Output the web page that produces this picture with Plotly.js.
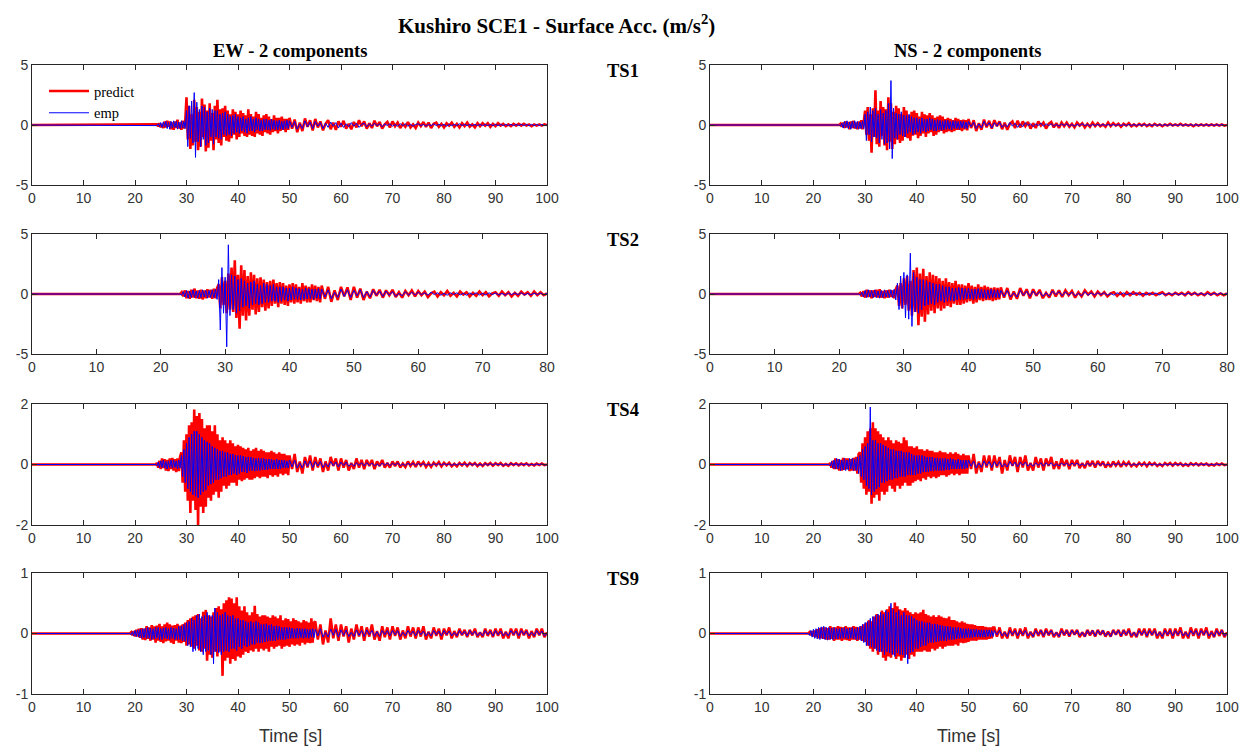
<!DOCTYPE html>
<html>
<head>
<meta charset="utf-8">
<script src="https://cdn.plot.ly/plotly-3.0.1.min.js"></script>
<style>html,body{margin:0;padding:0;background:#fff;}#chart{width:1253px;height:749px;}</style>
</head>
<body>
<div id="chart"></div>
<script>
// ---------------- DATA ----------------
// Each record: flat at 0 before onset t0; part "a" sampled every DT_A s from t0,
// part "b" (coda) sampled every DT_B s from ts.
const DT_A = 0.25, DT_B = 0.5;
const seriesNames = ['predict', 'emp'];
const rowLabels = ['TS1', 'TS2', 'TS4', 'TS9'];
const colLabels = ['EW - 2 components', 'NS - 2 components'];
const xMax = [100, 80, 100, 100];
const yMax = [5, 5, 2, 1];
const yTickText = [['-5', '0', '5'], ['-5', '0', '5'], ['-2', '0', '2'], ['-1', '0', '1']];

// ===== TS1 EW =====
const ew1_t0 = 24, ew1_ts = 50;
const ew1_pred_a = [0,0.05,-0.1,0.15,-0.2,0.1,-0.25,0.3,-0.2,0.35,-0.15,0.3,-0.35,0.2,-0.4,0.3,-0.25,0.45,-0.3,0.2,-0.4,0.35,-0.3,0.25,
2.3,-1.2,1.6,-2.0,0.9,-1.7,2.1,-1.4,
1.5,-2.1,1.1,-1.8,2.2,-1.0,1.7,-2.2,
1.2,-1.9,1.8,-1.3,1.0,-2.1,1.6,-1.2,
2.1,-1.5,1.3,-1.7,1.4,-1.0,1.6,-1.3,
1.2,-1.4,0.9,-1.1,1.3,-0.8,1.1,-1.2,
0.9,-1.0,1.2,-0.7,1.0,-0.9,0.8,-1.0,
1.3,-0.8,0.9,-0.9,0.7,-1.0,1.1,-0.7,
0.9,-0.8,0.6,-0.9,0.8,-0.6,0.9,-0.7,
0.7,-0.8,0.5,-0.6,0.8,-0.5,0.6,-0.7,
0.6,-0.5,0.7,-0.4,0.5,-0.6,0.5,-0.4];
const ew1_pred_b = [0.6,-0.3,0.45,-0.6,0.2,-0.5,0.55,-0.15,0.4,-0.45,
0.5,-0.2,0.3,-0.45,0.1,0.4,-0.35,0.2,-0.4,0.3,
-0.15,0.35,-0.3,0.1,-0.35,0.25,-0.2,0.4,-0.1,0.3,
-0.3,0.15,-0.25,0.35,-0.1,0.25,-0.3,0.05,0.25,-0.2,
0.3,-0.1,0.2,-0.25,0.1,-0.15,0.25,-0.2,0.05,-0.25,
0.2,-0.1,0.25,-0.15,0.2,-0.25,0.1,0.2,-0.15,0.1,
-0.2,0.15,-0.05,0.2,-0.15,0.1,-0.2,0.15,-0.1,0.2,
-0.15,0.05,-0.2,0.15,-0.1,0.15,-0.05,0.15,-0.15,0.1,
-0.1,0.15,-0.05,0.1,-0.1,0.05,-0.1,0.1,-0.05,0.1,
-0.05,0.1,-0.05,0.05,-0.1,0.05,-0.05,0.05,-0.05,0.05,0];
const ew1_emp_a = [0,-0.05,0.1,-0.15,0.2,-0.2,0.25,-0.15,0.3,-0.3,0.2,-0.35,0.3,-0.25,0.35,-0.2,0.3,-0.35,0.25,-0.3,0.35,-0.25,0.3,-0.3,
1.2,-1.8,1.6,-1.1,2.0,-1.5,2.7,-2.7,
1.9,-1.4,1.3,-1.8,1.6,-1.2,1.5,-1.7,
1.1,-1.5,1.4,-1.0,1.3,-1.6,1.2,-1.0,
1.2,-1.1,0.9,-1.2,1.0,-0.8,1.1,-0.9,
0.9,-0.8,0.7,-0.9,0.8,-0.7,0.9,-0.6,
0.7,-0.7,0.6,-0.5,0.7,-0.6,0.5,-0.7,
0.6,-0.5,0.7,-0.5,0.5,-0.6,0.6,-0.4,
0.5,-0.5,0.4,-0.5,0.5,-0.4,0.5,-0.4,
0.4,-0.45,0.5,-0.35,0.4,-0.4,0.35,-0.4,
0.4,-0.35,0.3,-0.4,0.35,-0.3,0.4,-0.3];
const ew1_emp_b = [0.35,-0.2,0.3,-0.35,0.1,-0.3,0.35,-0.15,0.25,-0.3,
0.3,-0.1,0.2,-0.3,0.15,-0.2,0.25,-0.1,0.2,-0.25,
0.15,-0.2,0.1,-0.15,0.2,-0.1,0.15,-0.2,0.05,0.15,
-0.15,0.1,-0.1,0.15,-0.05,0.1,-0.15,0.1,-0.05,0.1,
-0.1,0.05,-0.1,0.1,-0.05,0.1,-0.1,0.05,-0.1,0.05,
0.1,-0.05,0.05,-0.1,0.05,-0.05,0.1,-0.05,0.05,-0.05,
0.05,-0.1,0.05,-0.05,0.05,-0.05,0.1,-0.05,0.05,-0.05,
0.05,-0.05,0.05,-0.05,0.05,-0.05,0.05,-0.05,0.05,-0.05,
0.05,-0.05,0.05,-0.05,0.05,-0.05,0.05,-0.05,0.05,-0.05,
0.05,-0.05,0.05,-0.05,0.05,-0.05,0.05,-0.05,0.05,-0.05,0];

// ===== TS1 NS =====
const ns1_t0 = 25, ns1_ts = 50;
const ns1_pred_a = [0,0.1,-0.15,0.2,-0.25,0.3,-0.2,0.25,-0.35,0.3,-0.25,0.35,-0.3,0.2,-0.35,0.3,-0.3,0.4,-0.35,0.3,
1.2,-0.8,1.5,-1.3,0.9,-2.3,1.4,-1.0,
2.9,-1.6,1.2,-1.8,2.0,-0.9,1.5,-1.7,
1.3,-2.1,2.3,-1.4,1.8,-2.0,1.1,-1.6,
1.6,-1.2,1.4,-1.5,0.9,-1.3,1.5,-1.0,
1.2,-1.1,0.8,-1.3,1.1,-0.9,1.2,-0.8,
1.0,-1.1,0.7,-0.9,1.1,-0.7,0.9,-1.0,
0.8,-0.7,1.0,-0.6,0.8,-0.9,0.6,-0.8,
0.7,-0.6,0.8,-0.5,0.7,-0.7,0.5,-0.6,
0.6,-0.5,0.5,-0.6,0.4,-0.5,0.6,-0.4,
0.5,-0.4,0.4,-0.5,0.45,-0.35,0.4,-0.45];
const ns1_pred_b = [0.5,-0.25,0.4,-0.5,0.15,-0.4,0.45,-0.2,0.35,-0.3,
0.4,-0.1,0.3,-0.35,0.2,-0.4,0.1,0.3,-0.25,0.35,
-0.2,0.3,-0.1,0.25,-0.3,0.15,-0.25,0.3,-0.05,0.2,
-0.3,0.1,0.25,-0.2,0.15,-0.25,0.2,-0.1,0.2,-0.15,
0.1,-0.2,0.2,-0.05,0.15,-0.2,0.1,-0.15,0.2,-0.1,
0.15,-0.1,0.05,-0.15,0.2,-0.1,0.15,-0.05,0.1,-0.15,
0.1,-0.05,0.15,-0.1,0.05,-0.1,0.1,-0.05,0.1,-0.1,
0.05,-0.1,0.1,-0.05,0.05,-0.1,0.05,-0.05,0.1,-0.05,
0.05,-0.05,0.1,-0.05,0.05,-0.05,0.05,-0.1,0.05,-0.05,
0.05,-0.05,0.05,-0.05,0.05,-0.05,0.05,-0.05,0.05,-0.05,0];
const ns1_emp_a = [0,-0.1,0.15,-0.25,0.3,-0.2,0.35,-0.3,0.25,-0.35,0.3,-0.25,0.35,-0.3,0.3,-0.35,0.25,-0.3,0.35,-0.3,
0.9,-1.3,1.1,-0.8,1.5,-1.4,1.2,-1.0,
1.4,-1.1,0.9,-1.5,1.3,-1.2,1.0,-1.6,
1.2,-1.5,1.8,-2.0,3.7,-2.8,1.4,-1.1,
1.0,-1.2,0.9,-0.8,1.1,-0.9,0.8,-1.0,
0.8,-0.7,0.9,-0.6,0.7,-0.8,0.6,-0.7,
0.6,-0.6,0.5,-0.7,0.6,-0.5,0.5,-0.6,
0.5,-0.5,0.6,-0.4,0.5,-0.5,0.4,-0.5,
0.45,-0.4,0.4,-0.45,0.35,-0.4,0.4,-0.35,
0.4,-0.35,0.3,-0.4,0.35,-0.3,0.35,-0.3,
0.3,-0.35,0.3,-0.25,0.3,-0.3,0.25,-0.3];
const ns1_emp_b = [0.3,-0.15,0.25,-0.3,0.1,-0.25,0.3,-0.1,0.2,-0.25,
0.2,-0.1,0.25,-0.2,0.05,-0.15,0.2,-0.1,0.15,-0.2,
0.1,-0.15,0.2,-0.05,0.1,-0.15,0.1,-0.05,0.15,-0.1,
0.1,-0.05,0.1,-0.1,0.05,-0.1,0.1,-0.05,0.1,-0.1,
0.05,-0.1,0.05,-0.05,0.1,-0.05,0.05,-0.1,0.05,-0.05,
0.05,-0.05,0.05,-0.05,0.05,-0.05,0.05,-0.05,0.05,-0.05,
0.05,-0.05,0.05,-0.05,0.05,-0.05,0.05,-0.05,0.05,-0.05,
0.05,-0.05,0.05,-0.05,0.05,-0.05,0.05,-0.05,0.05,-0.05,
0.05,-0.05,0.05,-0.05,0.05,-0.05,0.05,-0.05,0.05,-0.05,
0.05,-0.05,0.05,-0.05,0.05,-0.05,0.05,-0.05,0.05,-0.05,0];

// ===== TS2 EW (80 s record) =====
const ew2_t0 = 23, ew2_ts = 45;
const ew2_pred_a = [0,0.15,-0.2,0.3,-0.35,0.25,-0.4,0.35,-0.3,0.45,-0.35,0.3,-0.4,0.35,-0.45,0.3,-0.35,0.4,-0.3,0.35,-0.4,0.45,-0.35,0.5,
0.8,-1.2,1.4,-0.9,1.1,-1.6,1.7,-1.3,
2.2,-1.5,2.8,-2.0,1.6,-2.9,2.4,-1.8,
2.0,-2.2,1.5,-1.8,1.8,-1.3,1.6,-1.7,
1.3,-1.5,1.4,-1.1,1.2,-1.4,1.0,-1.2,
1.1,-1.0,1.2,-0.8,0.9,-1.1,1.0,-0.8,
0.9,-0.9,0.7,-1.0,0.8,-0.7,0.9,-0.8,
0.8,-0.7,0.6,-0.8,0.9,-0.6,0.7,-0.7,
0.6,-0.7,0.8,-0.5,0.7,-0.6,0.6,-0.7];
const ew2_pred_b = [0.7,-0.4,0.6,-0.65,0.3,-0.5,0.6,-0.2,0.55,-0.5,
0.6,-0.3,0.45,-0.5,0.2,-0.35,0.4,-0.15,0.35,-0.3,
0.3,-0.1,0.35,-0.25,0.15,-0.3,0.25,-0.1,0.3,-0.2,
0.25,-0.1,0.2,-0.25,0.05,0.2,-0.2,0.15,-0.1,0.25,
-0.15,0.1,-0.2,0.2,-0.05,0.15,-0.2,0.1,-0.15,0.2,
-0.1,0.15,-0.2,0.05,0.15,-0.15,0.2,-0.1,0.15,-0.2,
0.1,-0.15,0.2,-0.05,0.15,-0.15,0.2,-0.1,0.15,-0.1,0.05];
const ew2_emp_a = [0,-0.1,0.2,-0.25,0.3,-0.35,0.25,-0.3,0.35,-0.3,0.25,-0.35,0.3,-0.3,0.35,-0.25,0.3,-0.35,0.3,-0.3,0.35,-0.3,0.4,-0.45,
1.2,-3.0,2.2,-1.6,1.4,-4.4,4.1,-1.8,
1.6,-1.3,1.5,-1.6,1.2,-1.4,1.3,-1.1,
1.1,-1.0,0.9,-1.2,1.0,-0.9,1.1,-0.8,
0.8,-0.9,0.7,-0.8,0.9,-0.7,0.8,-0.7,
0.7,-0.6,0.8,-0.6,0.6,-0.7,0.6,-0.6,
0.6,-0.5,0.5,-0.6,0.5,-0.5,0.6,-0.45,
0.5,-0.45,0.45,-0.5,0.4,-0.45,0.5,-0.4,
0.45,-0.4,0.4,-0.45,0.4,-0.35,0.45,-0.4];
const ew2_emp_b = [0.4,-0.25,0.35,-0.4,0.15,-0.3,0.4,-0.2,0.35,-0.3,
0.3,-0.15,0.35,-0.3,0.2,-0.25,0.3,-0.1,0.25,-0.2,
0.25,-0.1,0.2,-0.2,0.05,-0.15,0.2,-0.1,0.15,-0.1,
0.15,-0.05,0.1,-0.1,0.15,-0.05,0.1,-0.1,0.05,-0.1,
0.1,-0.05,0.1,-0.08,0.05,-0.1,0.08,-0.05,0.1,-0.08,
0.05,-0.08,0.1,-0.05,0.08,-0.08,0.05,-0.1,0.08,-0.05,
0.08,-0.05,0.1,-0.08,0.05,-0.08,0.08,-0.05,0.08,-0.08,0.05];

// ===== TS2 NS (80 s record) =====
const ns2_t0 = 23, ns2_ts = 45;
const ns2_pred_a = [0,0.1,-0.2,0.25,-0.3,0.35,-0.25,0.3,-0.35,0.3,-0.25,0.35,-0.3,0.4,-0.3,0.25,-0.35,0.3,-0.3,0.35,-0.25,0.3,-0.35,0.4,
0.7,-1.0,0.9,-1.2,1.3,-0.9,1.5,-1.4,
1.1,-1.8,2.0,-1.5,2.2,-2.6,1.7,-1.9,
2.1,-2.3,1.5,-1.7,1.8,-1.4,1.6,-1.6,
1.5,-1.2,1.3,-1.4,1.1,-1.2,1.3,-1.0,
1.0,-1.1,0.9,-0.8,1.1,-0.9,0.8,-0.9,
0.8,-0.8,0.7,-0.7,0.9,-0.6,0.7,-0.8,
0.6,-0.7,0.8,-0.5,0.6,-0.6,0.7,-0.5,
0.6,-0.5,0.5,-0.6,0.55,-0.5,0.5,-0.45];
const ns2_pred_b = [0.55,-0.3,0.5,-0.45,0.2,-0.4,0.5,-0.15,0.4,-0.35,
0.4,-0.15,0.35,-0.35,0.1,-0.3,0.35,-0.2,0.3,-0.25,
0.3,-0.1,0.25,-0.3,0.15,-0.2,0.3,-0.05,0.2,-0.2,
0.2,-0.1,0.15,-0.2,0.05,0.15,-0.15,0.1,-0.15,0.15,
-0.1,0.15,-0.05,0.1,-0.15,0.1,-0.05,0.1,-0.1,0.05,
0.15,-0.1,0.05,-0.1,0.1,-0.05,0.1,-0.1,0.15,-0.05,
0.1,-0.1,0.05,-0.1,0.15,-0.05,0.1,-0.1,0.05,-0.1,0.05];
const ns2_emp_a = [0,-0.1,0.15,-0.25,0.3,-0.3,0.35,-0.25,0.3,-0.3,0.35,-0.3,0.25,-0.35,0.3,-0.3,0.35,-0.25,0.3,-0.3,0.35,-0.3,0.4,-0.5,
0.9,-1.3,1.5,-1.2,1.8,-2.0,1.6,-2.1,
3.4,-2.7,1.8,-1.5,1.4,-1.6,1.2,-1.3,
1.2,-1.0,1.1,-0.9,1.0,-0.8,0.9,-0.9,
0.8,-0.7,0.8,-0.6,0.7,-0.7,0.6,-0.6,
0.6,-0.55,0.5,-0.6,0.5,-0.5,0.55,-0.45,
0.5,-0.45,0.45,-0.4,0.5,-0.4,0.4,-0.45,
0.4,-0.4,0.45,-0.35,0.4,-0.35,0.35,-0.4,
0.35,-0.35,0.4,-0.3,0.35,-0.3,0.35,-0.3];
const ns2_emp_b = [0.3,-0.2,0.3,-0.25,0.1,-0.25,0.3,-0.1,0.25,-0.2,
0.25,-0.1,0.2,-0.2,0.1,-0.2,0.25,-0.05,0.2,-0.15,
0.2,-0.1,0.15,-0.15,0.05,-0.15,0.2,-0.1,0.1,-0.1,
0.1,-0.05,0.1,-0.1,0.05,-0.1,0.1,-0.05,0.1,-0.08,
0.08,-0.05,0.1,-0.08,0.05,-0.08,0.08,-0.05,0.08,-0.08,
0.05,-0.08,0.08,-0.05,0.08,-0.08,0.05,-0.08,0.08,-0.05,
0.08,-0.05,0.08,-0.08,0.05,-0.08,0.08,-0.05,0.08,-0.08,0.05];

// ===== TS4 EW =====
const ew4_t0 = 24, ew4_ts = 50;
const ew4_pred_a = [0,0.05,-0.1,0.12,-0.15,0.2,-0.12,0.18,-0.2,0.15,-0.22,0.2,-0.15,0.22,-0.2,0.18,-0.25,0.2,-0.22,0.25,
0.4,-0.6,0.8,-0.9,1.0,-1.2,1.3,-1.6,
1.4,-1.2,1.82,-1.5,1.6,-2.0,1.7,-1.4,
1.5,-1.6,1.2,-1.4,1.3,-1.1,1.3,-1.2,
1.1,-1.0,1.3,-0.9,1.0,-1.1,0.8,-0.9,
0.9,-0.7,0.8,-0.8,0.7,-0.7,0.8,-0.6,
0.7,-0.6,0.6,-0.7,0.65,-0.5,0.6,-0.55,
0.55,-0.5,0.5,-0.45,0.55,-0.5,0.45,-0.5,
0.5,-0.45,0.55,-0.4,0.45,-0.45,0.5,-0.4,
0.45,-0.4,0.4,-0.45,0.4,-0.35,0.45,-0.4,
0.4,-0.35,0.35,-0.4,0.4,-0.3,0.35,-0.35,
0.35,-0.3,0.3,-0.35];
const ew4_pred_b = [0.3,-0.15,0.35,-0.25,0.1,-0.3,0.25,-0.1,0.3,-0.2,
0.25,-0.1,0.2,-0.25,0.1,-0.2,0.25,-0.05,0.2,-0.2,
0.2,-0.1,0.15,-0.2,0.05,-0.15,0.2,-0.1,0.15,-0.15,
0.15,-0.05,0.15,-0.15,0.1,-0.05,0.15,-0.1,0.05,-0.1,
0.1,-0.05,0.1,-0.1,0.03,-0.08,0.1,-0.05,0.08,-0.08,
0.1,-0.03,0.08,-0.08,0.05,-0.08,0.06,-0.03,0.08,-0.06,
0.06,-0.03,0.06,-0.06,0.02,-0.06,0.05,-0.03,0.06,-0.05,
0.05,-0.02,0.05,-0.05,0.03,-0.05,0.04,-0.02,0.05,-0.04,
0.04,-0.02,0.05,-0.04,0.02,-0.04,0.04,-0.02,0.04,-0.03,
0.03,-0.02,0.04,-0.03,0.02,-0.03,0.03,-0.02,0.03,-0.02,0];
const ew4_emp_a = [0,-0.05,0.08,-0.1,0.12,-0.1,0.15,-0.12,0.1,-0.15,0.12,-0.1,0.15,-0.12,0.15,-0.1,0.12,-0.15,0.15,-0.12,
0.3,-0.4,0.5,-0.6,0.7,-0.8,0.9,-0.9,
1.0,-1.0,1.1,-1.05,1.1,-1.1,1.0,-1.0,
0.9,-0.9,0.8,-0.85,0.75,-0.7,0.7,-0.65,
0.6,-0.6,0.55,-0.5,0.5,-0.5,0.45,-0.45,
0.45,-0.4,0.4,-0.4,0.4,-0.35,0.35,-0.35,
0.35,-0.3,0.3,-0.35,0.3,-0.3,0.3,-0.25,
0.28,-0.25,0.25,-0.28,0.25,-0.22,0.25,-0.2,
0.22,-0.22,0.2,-0.2,0.22,-0.2,0.2,-0.18,
0.2,-0.18,0.18,-0.18,0.18,-0.15,0.18,-0.15,
0.15,-0.15,0.18,-0.15,0.15,-0.15,0.15,-0.12,
0.15,-0.12,0.12,-0.12];
const ew4_emp_b = [0.15,-0.08,0.15,-0.12,0.05,-0.12,0.12,-0.06,0.12,-0.1,
0.1,-0.05,0.1,-0.1,0.04,-0.08,0.1,-0.04,0.08,-0.08,
0.08,-0.04,0.08,-0.06,0.03,-0.06,0.06,-0.03,0.06,-0.05,
0.06,-0.03,0.05,-0.05,0.02,-0.05,0.05,-0.03,0.05,-0.04,
0.04,-0.02,0.05,-0.04,0.02,-0.04,0.04,-0.02,0.04,-0.03,
0.03,-0.02,0.03,-0.03,0.01,-0.03,0.03,-0.02,0.03,-0.02,
0.03,-0.01,0.02,-0.03,0.02,-0.02,0.03,-0.01,0.02,-0.02,
0.03,-0.02,0.03,-0.03,0.01,-0.03,0.03,-0.02,0.03,-0.02,
0.03,-0.01,0.02,-0.03,0.02,-0.02,0.03,-0.01,0.02,-0.02,
0.02,-0.01,0.02,-0.02,0.01,-0.02,0.02,-0.01,0.02,-0.02,0];

// ===== TS4 NS =====
const ns4_t0 = 23, ns4_ts = 50;
const ns4_pred_a = [0,0.05,-0.1,0.12,-0.15,0.2,-0.15,0.18,-0.2,0.15,-0.2,0.22,-0.18,0.2,-0.15,0.2,-0.22,0.18,-0.2,0.22,-0.2,0.25,-0.3,0.35,
0.4,-0.6,0.7,-0.8,0.9,-1.0,1.1,-0.9,
1.2,-1.3,1.4,-1.1,1.2,-1.0,1.1,-1.2,
1.0,-0.9,0.9,-1.0,0.8,-0.9,0.9,-0.7,
0.8,-0.8,0.7,-0.9,0.8,-0.7,0.75,-0.8,
0.7,-0.7,0.9,-0.6,0.8,-0.7,0.6,-0.7,
0.6,-0.6,0.55,-0.55,0.6,-0.5,0.5,-0.55,
0.5,-0.45,0.45,-0.5,0.5,-0.4,0.45,-0.45,
0.45,-0.4,0.4,-0.45,0.4,-0.4,0.45,-0.35,
0.4,-0.35,0.4,-0.4,0.35,-0.35,0.4,-0.3,
0.35,-0.35,0.4,-0.3,0.35,-0.35,0.3,-0.3,
0.35,-0.3,0.3,-0.3];
const ns4_pred_b = [0.3,-0.15,0.35,-0.3,0.1,-0.25,0.3,-0.1,0.3,-0.2,
0.3,-0.1,0.25,-0.3,0.15,-0.2,0.3,-0.05,0.25,-0.25,
0.25,-0.1,0.3,-0.2,0.05,-0.2,0.25,-0.1,0.2,-0.2,
0.2,-0.05,0.25,-0.15,0.1,-0.15,0.2,-0.05,0.15,-0.15,
0.15,-0.05,0.15,-0.12,0.05,-0.12,0.12,-0.06,0.12,-0.1,
0.12,-0.04,0.1,-0.1,0.05,-0.08,0.1,-0.04,0.08,-0.08,
0.08,-0.03,0.08,-0.06,0.02,-0.06,0.06,-0.03,0.06,-0.06,
0.06,-0.02,0.05,-0.05,0.02,-0.05,0.05,-0.02,0.05,-0.04,
0.05,-0.02,0.04,-0.04,0.02,-0.04,0.04,-0.02,0.04,-0.03,
0.03,-0.02,0.03,-0.03,0.01,-0.03,0.03,-0.02,0.03,-0.02,0];
const ns4_emp_a = [0,-0.05,0.1,-0.12,0.15,-0.15,0.2,-0.15,0.18,-0.2,0.15,-0.18,0.2,-0.2,0.15,-0.18,0.2,-0.15,0.2,-0.2,0.18,-0.2,0.25,-0.3,
0.3,-0.4,0.5,-0.5,0.6,-0.7,0.7,-0.8,
1.9,-1.0,0.8,-0.9,0.8,-0.8,0.7,-0.75,
0.7,-0.6,0.65,-0.6,0.6,-0.55,0.55,-0.5,
0.5,-0.5,0.5,-0.45,0.45,-0.45,0.45,-0.4,
0.45,-0.4,0.4,-0.4,0.4,-0.35,0.4,-0.35,
0.35,-0.35,0.3,-0.35,0.3,-0.3,0.3,-0.3,
0.3,-0.25,0.28,-0.25,0.25,-0.25,0.25,-0.22,
0.25,-0.22,0.22,-0.2,0.22,-0.2,0.2,-0.2,
0.2,-0.2,0.2,-0.18,0.18,-0.18,0.2,-0.15,
0.18,-0.15,0.15,-0.15,0.18,-0.15,0.15,-0.15,
0.15,-0.15,0.15,-0.12];
const ns4_emp_b = [0.15,-0.06,0.12,-0.12,0.05,-0.1,0.12,-0.05,0.1,-0.1,
0.1,-0.05,0.1,-0.08,0.03,-0.08,0.1,-0.04,0.08,-0.08,
0.08,-0.03,0.08,-0.06,0.03,-0.06,0.06,-0.03,0.06,-0.06,
0.06,-0.03,0.06,-0.05,0.02,-0.05,0.05,-0.02,0.05,-0.05,
0.05,-0.02,0.05,-0.04,0.02,-0.04,0.04,-0.02,0.05,-0.04,
0.04,-0.02,0.04,-0.03,0.01,-0.03,0.03,-0.02,0.04,-0.03,
0.03,-0.01,0.03,-0.03,0.02,-0.02,0.03,-0.01,0.02,-0.02,
0.02,-0.01,0.02,-0.02,0.01,-0.02,0.02,-0.01,0.02,-0.02,
0.02,-0.01,0.02,-0.02,0.01,-0.02,0.02,-0.01,0.02,-0.02,
0.02,-0.01,0.02,-0.02,0.01,-0.02,0.02,-0.01,0.02,-0.02,0];

// ===== TS9 EW =====
const ew9_t0 = 19, ew9_ts = 55;
const ew9_pred_a = [0,0.02,-0.03,0.04,-0.05,0.06,-0.05,0.08,
-0.07,0.09,-0.1,0.08,-0.11,0.12,-0.09,0.1,
-0.12,0.14,-0.1,0.12,-0.15,0.13,-0.12,0.16,
-0.14,0.12,-0.16,0.15,-0.13,0.18,-0.12,0.15,
-0.15,0.13,-0.17,0.14,-0.12,0.16,-0.15,0.13,
-0.16,0.15,-0.14,0.18,-0.2,0.22,-0.18,0.25,
-0.22,0.28,-0.25,0.3,-0.2,0.32,-0.28,0.25,
-0.3,0.36,-0.25,0.39,-0.45,0.3,-0.35,0.28,
-0.4,0.35,-0.3,0.42,-0.38,0.45,-0.3,0.4,
-0.7,0.5,-0.45,0.55,-0.4,0.6,-0.5,0.58,
-0.42,0.5,-0.45,0.6,-0.38,0.45,-0.4,0.38,
-0.35,0.45,-0.3,0.35,-0.32,0.3,-0.28,0.35,
-0.3,0.46,-0.25,0.32,-0.3,0.28,-0.25,0.3,
-0.28,0.3,-0.25,0.28,-0.3,0.26,-0.22,0.3,
-0.25,0.28,-0.22,0.25,-0.2,0.3,-0.25,0.22,
-0.22,0.25,-0.2,0.24,-0.22,0.2,-0.18,0.25,
-0.2,0.22,-0.18,0.2,-0.2,0.18,-0.15,0.22,
-0.18,0.2,-0.15,0.18,-0.16,0.25,-0.15,0.18];
const ew9_pred_b = [0.2,-0.1,0.15,-0.18,0.05,-0.15,0.25,-0.08,0.15,-0.12,
0.15,-0.05,0.12,-0.15,0.08,-0.1,0.15,-0.05,0.12,-0.12,
0.1,-0.05,0.15,-0.1,0.04,-0.12,0.12,-0.06,0.1,-0.1,
0.12,-0.04,0.1,-0.1,0.05,-0.08,0.12,-0.05,0.1,-0.08,
0.1,-0.05,0.12,-0.1,0.03,-0.08,0.1,-0.04,0.08,-0.1,
0.08,-0.03,0.1,-0.08,0.04,-0.06,0.08,-0.03,0.06,-0.06,
0.06,-0.03,0.08,-0.06,0.02,-0.06,0.08,-0.04,0.06,-0.06,
0.08,-0.04,0.08,-0.08,0.03,-0.08,0.08,-0.03,0.08,-0.08,
0.08,-0.03,0.06,-0.08,0.04,-0.06,0.08,-0.03,0.08,-0.06,0.02];
const ew9_emp_a = [0,-0.02,0.03,-0.04,0.05,-0.05,0.06,-0.06,
0.07,-0.08,0.08,-0.07,0.09,-0.08,0.1,-0.08,
0.09,-0.1,0.08,-0.09,0.1,-0.08,0.1,-0.1,
0.08,-0.1,0.09,-0.08,0.1,-0.09,0.08,-0.1,
0.1,-0.08,0.09,-0.1,0.08,-0.1,0.12,-0.1,
0.12,-0.12,0.15,-0.13,0.18,-0.2,0.2,-0.22,
0.25,-0.3,0.22,-0.28,0.3,-0.25,0.32,-0.3,
0.28,-0.35,0.3,-0.3,0.35,-0.28,0.3,-0.35,
0.3,-0.5,0.42,-0.3,0.35,-0.32,0.3,-0.35,
0.32,-0.3,0.35,-0.28,0.3,-0.3,0.28,-0.25,
0.3,-0.25,0.25,-0.28,0.25,-0.22,0.22,-0.25,
0.22,-0.2,0.2,-0.22,0.18,-0.2,0.2,-0.18,
0.18,-0.18,0.2,-0.15,0.18,-0.16,0.15,-0.15,
0.15,-0.14,0.16,-0.13,0.14,-0.12,0.15,-0.12,
0.12,-0.12,0.13,-0.1,0.12,-0.1,0.1,-0.1,
0.1,-0.1,0.1,-0.09,0.1,-0.08,0.09,-0.08,
0.08,-0.08,0.09,-0.08,0.08,-0.07,0.08,-0.08,
0.08,-0.07,0.07,-0.08,0.07,-0.06,0.08,-0.07];
const ew9_emp_b = [0.07,-0.04,0.08,-0.06,0.02,-0.06,0.07,-0.03,0.07,-0.06,
0.06,-0.03,0.06,-0.05,0.02,-0.05,0.06,-0.03,0.05,-0.05,
0.06,-0.02,0.05,-0.05,0.03,-0.05,0.05,-0.02,0.05,-0.04,
0.05,-0.02,0.05,-0.05,0.02,-0.04,0.05,-0.02,0.04,-0.04,
0.05,-0.02,0.04,-0.04,0.02,-0.04,0.05,-0.02,0.04,-0.04,
0.05,-0.02,0.04,-0.04,0.02,-0.04,0.05,-0.02,0.04,-0.04,
0.05,-0.02,0.04,-0.04,0.02,-0.04,0.05,-0.02,0.04,-0.04,
0.05,-0.02,0.04,-0.04,0.02,-0.04,0.05,-0.02,0.04,-0.04,
0.05,-0.02,0.04,-0.04,0.02,-0.04,0.05,-0.02,0.04,-0.04,0];

// ===== TS9 NS =====
const ns9_t0 = 19, ns9_ts = 55;
const ns9_pred_a = [0,0.02,-0.03,0.04,-0.05,0.05,-0.06,0.07,
-0.08,0.09,-0.08,0.1,-0.09,0.1,-0.1,0.09,
-0.1,0.12,-0.09,0.1,-0.12,0.1,-0.1,0.12,
-0.1,0.11,-0.12,0.1,-0.1,0.12,-0.11,0.1,
-0.12,0.1,-0.1,0.12,-0.1,0.11,-0.12,0.1,
-0.1,0.12,-0.12,0.15,-0.14,0.18,-0.2,0.22,
-0.25,0.2,-0.3,0.28,-0.25,0.32,-0.35,0.3,
-0.3,0.38,-0.4,0.35,-0.45,0.4,-0.38,0.45,
-0.4,0.42,-0.35,0.51,-0.42,0.45,-0.38,0.4,
-0.45,0.38,-0.4,0.42,-0.35,0.38,-0.42,0.35,
-0.35,0.32,-0.38,0.35,-0.3,0.33,-0.3,0.35,
-0.3,0.39,-0.28,0.32,-0.3,0.3,-0.3,0.28,
-0.25,0.3,-0.28,0.27,-0.25,0.3,-0.22,0.28,
-0.25,0.26,-0.22,0.25,-0.2,0.28,-0.2,0.22,
-0.2,0.22,-0.18,0.2,-0.2,0.18,-0.15,0.2,
-0.16,0.18,-0.15,0.16,-0.14,0.15,-0.12,0.15,
-0.12,0.14,-0.12,0.12,-0.1,0.12,-0.1,0.12,
-0.1,0.11,-0.1,0.1,-0.09,0.1,-0.08,0.1];
const ns9_pred_b = [0.1,-0.05,0.1,-0.08,0.03,-0.08,0.1,-0.04,0.08,-0.08,
0.08,-0.04,0.1,-0.08,0.03,-0.06,0.08,-0.04,0.06,-0.06,
0.08,-0.03,0.06,-0.06,0.02,-0.06,0.08,-0.03,0.06,-0.05,
0.06,-0.02,0.06,-0.06,0.02,-0.05,0.06,-0.03,0.05,-0.05,
0.06,-0.02,0.05,-0.05,0.03,-0.05,0.06,-0.02,0.06,-0.05,
0.06,-0.03,0.08,-0.06,0.02,-0.06,0.08,-0.03,0.08,-0.06,
0.08,-0.03,0.08,-0.08,0.03,-0.08,0.08,-0.04,0.08,-0.08,
0.08,-0.04,0.1,-0.08,0.03,-0.08,0.1,-0.04,0.08,-0.08,
0.08,-0.03,0.1,-0.08,0.04,-0.06,0.08,-0.04,0.06,-0.06,0.02];
const ns9_emp_a = [0,-0.03,0.05,-0.06,0.07,-0.08,0.08,-0.09,
0.1,-0.1,0.11,-0.09,0.12,-0.1,0.1,-0.11,
0.1,-0.1,0.09,-0.1,0.1,-0.09,0.08,-0.09,
0.08,-0.08,0.09,-0.08,0.1,-0.08,0.08,-0.09,
0.09,-0.08,0.1,-0.09,0.08,-0.1,0.1,-0.1,
0.12,-0.12,0.15,-0.15,0.18,-0.2,0.2,-0.2,
0.25,-0.22,0.28,-0.25,0.3,-0.28,0.32,-0.3,
0.35,-0.3,0.32,-0.35,0.38,-0.3,0.35,-0.32,
0.5,-0.35,0.4,-0.38,0.35,-0.32,0.38,-0.35,
0.3,-0.35,0.35,-0.4,0.3,-0.5,0.3,-0.32,
0.28,-0.3,0.25,-0.25,0.22,-0.25,0.2,-0.22,
0.2,-0.2,0.18,-0.2,0.18,-0.16,0.18,-0.15,
0.15,-0.15,0.16,-0.14,0.15,-0.13,0.14,-0.12,
0.13,-0.12,0.12,-0.12,0.12,-0.1,0.11,-0.1,
0.1,-0.1,0.1,-0.09,0.1,-0.08,0.09,-0.08,
0.08,-0.08,0.08,-0.07,0.08,-0.07,0.07,-0.07,
0.07,-0.06,0.07,-0.06,0.06,-0.06,0.06,-0.06,
0.06,-0.06,0.06,-0.05,0.06,-0.05,0.05,-0.05];
const ns9_emp_b = [0.05,-0.02,0.05,-0.04,0.02,-0.05,0.05,-0.02,0.05,-0.04,
0.05,-0.02,0.05,-0.04,0.02,-0.05,0.05,-0.02,0.05,-0.04,
0.05,-0.02,0.05,-0.04,0.02,-0.05,0.05,-0.02,0.05,-0.04,
0.05,-0.02,0.05,-0.04,0.02,-0.05,0.05,-0.02,0.05,-0.04,
0.05,-0.02,0.05,-0.04,0.02,-0.05,0.05,-0.02,0.05,-0.04,
0.05,-0.02,0.05,-0.04,0.02,-0.05,0.05,-0.02,0.05,-0.04,
0.05,-0.02,0.05,-0.04,0.02,-0.05,0.05,-0.02,0.05,-0.04,
0.05,-0.02,0.05,-0.04,0.02,-0.05,0.05,-0.02,0.05,-0.04,
0.05,-0.02,0.05,-0.04,0.02,-0.05,0.05,-0.02,0.05,-0.04,0];

// ---------------- PLOT ----------------
const W = 1253, H = 749;
const panels = [
  {row:0, col:0, t0:ew1_t0, ts:ew1_ts, pa:ew1_pred_a, pb:ew1_pred_b, ea:ew1_emp_a, eb:ew1_emp_b},
  {row:0, col:1, t0:ns1_t0, ts:ns1_ts, pa:ns1_pred_a, pb:ns1_pred_b, ea:ns1_emp_a, eb:ns1_emp_b},
  {row:1, col:0, t0:ew2_t0, ts:ew2_ts, pa:ew2_pred_a, pb:ew2_pred_b, ea:ew2_emp_a, eb:ew2_emp_b},
  {row:1, col:1, t0:ns2_t0, ts:ns2_ts, pa:ns2_pred_a, pb:ns2_pred_b, ea:ns2_emp_a, eb:ns2_emp_b},
  {row:2, col:0, t0:ew4_t0, ts:ew4_ts, pa:ew4_pred_a, pb:ew4_pred_b, ea:ew4_emp_a, eb:ew4_emp_b},
  {row:2, col:1, t0:ns4_t0, ts:ns4_ts, pa:ns4_pred_a, pb:ns4_pred_b, ea:ns4_emp_a, eb:ns4_emp_b},
  {row:3, col:0, t0:ew9_t0, ts:ew9_ts, pa:ew9_pred_a, pb:ew9_pred_b, ea:ew9_emp_a, eb:ew9_emp_b},
  {row:3, col:1, t0:ns9_t0, ts:ns9_ts, pa:ns9_pred_a, pb:ns9_pred_b, ea:ns9_emp_a, eb:ns9_emp_b}
];
const colPx = [[32, 547], [710, 1227]];
const rowPx = [[65, 185], [234, 354], [404, 525], [573, 694]];
const px = v => v / W, py = v => 1 - v / H;

function toXY(t0, a, ts, b) {
  const x = [0], y = [0];               // quiet record before the onset
  a.forEach((v, i) => { x.push(t0 + i * DT_A); y.push(v); });
  b.forEach((v, i) => { x.push(ts + i * DT_B); y.push(v); });
  return {x, y};
}

const axisCommon = {
  showline: true, mirror: 'ticks', ticks: 'inside', ticklen: 5, tickwidth: 1,
  linecolor: '#262626', linewidth: 1, tickcolor: '#262626',
  showgrid: false, zeroline: false, fixedrange: true,
  tickfont: {family: 'Liberation Sans, Arial, sans-serif', size: 14, color: '#333'}
};

const data = [];
const layout = {
  width: W, height: H, margin: {l:0, r:0, t:0, b:0},
  paper_bgcolor: '#fff', plot_bgcolor: '#fff', showlegend: true,
  legend: {x: px(44), y: py(75), xanchor: 'left', yanchor: 'top', bgcolor: 'rgba(0,0,0,0)',
    font: {family: 'Liberation Serif, Times New Roman, serif', size: 14.5, color: '#000'},
    tracegroupgap: 0, itemwidth: 40},
  annotations: []
};

panels.forEach((p, k) => {
  const n = k + 1, sfx = n === 1 ? '' : String(n);
  const xa = 'x' + sfx, ya = 'y' + sfx;
  const pr = toXY(p.t0, p.pa, p.ts, p.pb), em = toXY(p.t0, p.ea, p.ts, p.eb);
  data.push({x: pr.x, y: pr.y, xaxis: xa, yaxis: ya, type: 'scatter', mode: 'lines',
    name: seriesNames[0], showlegend: k === 0, line: {color: '#ff0000', width: 2.6}, hoverinfo: 'skip'});
  data.push({x: em.x, y: em.y, xaxis: xa, yaxis: ya, type: 'scatter', mode: 'lines',
    name: seriesNames[1], showlegend: k === 0, line: {color: '#0000ff', width: 1}, hoverinfo: 'skip'});
  const xm = xMax[p.row], ym = yMax[p.row];
  layout['xaxis' + sfx] = Object.assign({}, axisCommon, {
    domain: [px(colPx[p.col][0]), px(colPx[p.col][1])], anchor: ya,
    range: [0, xm], tickmode: 'linear', tick0: 0, dtick: 10
  });
  layout['yaxis' + sfx] = Object.assign({}, axisCommon, {
    domain: [py(rowPx[p.row][1]), py(rowPx[p.row][0])], anchor: xa,
    range: [-ym, ym], tickmode: 'array', tickvals: [-ym, 0, ym], ticktext: yTickText[p.row]
  });
});

const serif = 'Liberation Serif, Times New Roman, serif';
const sans = 'Liberation Sans, Arial, sans-serif';
function ann(text, xpx, ypx, font) {
  layout.annotations.push({text, x: px(xpx), y: py(ypx), xref: 'paper', yref: 'paper',
    xanchor: 'center', yanchor: 'middle', showarrow: false, font});
}
ann('<b>Kushiro SCE1 - Surface Acc. (m/s<sup>2</sup>)</b>', 556, 24, {family: serif, size: 21, color: '#000'});
ann('<b>' + colLabels[0] + '</b>', 290, 51, {family: serif, size: 18.5, color: '#000'});
ann('<b>' + colLabels[1] + '</b>', 968, 51, {family: serif, size: 18.5, color: '#000'});
rowLabels.forEach((t, r) => ann('<b>' + t + '</b>', 623, rowPx[r][0] + 6, {family: serif, size: 18.5, color: '#000'}));
ann('Time [s]', 290, 736, {family: sans, size: 18, color: '#333'});
ann('Time [s]', 968, 736, {family: sans, size: 18, color: '#333'});

Plotly.newPlot('chart', data, layout, {staticPlot: true, displayModeBar: false});
</script>
</body>
</html>
